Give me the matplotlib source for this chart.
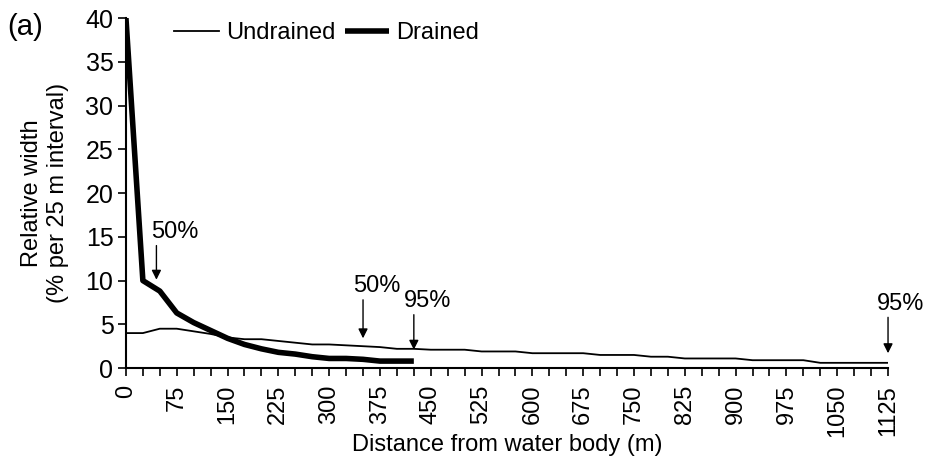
import matplotlib
matplotlib.use('Agg')
from matplotlib import pyplot as plt

plt.rcParams['font.family'] = ['Liberation Sans', 'DejaVu Sans']

# distance from water body (m), 25 m intervals
dist_drained = [0, 25, 50, 75, 100, 125, 150, 175, 200, 225, 250, 275,
                300, 325, 350, 375, 400, 425]
drained = [40.0, 10.0, 8.8, 6.3, 5.2, 4.3, 3.4, 2.7, 2.2, 1.8, 1.6, 1.3,
           1.1, 1.1, 1.0, 0.8, 0.8, 0.8]

dist_undrained = list(range(0, 1150, 25))
undrained = [4.0, 4.0, 4.5, 4.5, 4.2, 3.9, 3.5, 3.3, 3.3, 3.1, 2.9, 2.7,
             2.7, 2.6, 2.5, 2.4, 2.2, 2.2, 2.1, 2.1, 2.1, 1.9, 1.9, 1.9,
             1.7, 1.7, 1.7, 1.7, 1.5, 1.5, 1.5, 1.3, 1.3, 1.1, 1.1, 1.1,
             1.1, 0.9, 0.9, 0.9, 0.9, 0.6, 0.6, 0.6, 0.6, 0.6]

xticks = list(range(0, 1150, 75))

# percentile markers: label, x position, arrow tip y, arrow tail y
marker_labels = ['50%', '50%', '95%', '95%']
marker_x = [45, 350, 425, 1125]
marker_tip = [10.1, 3.4, 2.1, 1.7]
marker_tail = [14.0, 7.8, 6.1, 5.8]
label_shift = [-4, -7, -7, -8]   # points, text left edge relative to arrow

fig = plt.figure(figsize=(9.26, 4.63), dpi=100)
ax = fig.add_axes([0.136, 0.205, 0.823, 0.756])

ax.plot(dist_undrained, undrained, color='black', lw=1.3, label='Undrained')
ax.plot(dist_drained, drained, color='black', lw=4, label='Drained',
        solid_capstyle='butt')

for label, x, tip, tail, dx in zip(marker_labels, marker_x, marker_tip,
                                   marker_tail, label_shift):
    ax.annotate('', xy=(x, tip), xytext=(x, tail),
                arrowprops=dict(arrowstyle='-|>', color='black', lw=1,
                                mutation_scale=14, shrinkA=0, shrinkB=0))
    ax.annotate(label, xy=(x, tail), xytext=(dx, 2),
                textcoords='offset points', ha='left', va='bottom',
                fontsize=17, annotation_clip=False)

ax.set_xlim(0, 1125)
ax.set_ylim(0, 40)
ax.set_yticks(range(0, 45, 5))
ax.set_xticks(range(0, 1150, 25), minor=True)
ax.set_xticks(xticks)
ax.set_xticklabels([str(t) for t in xticks], rotation=90)
ax.tick_params(axis='y', direction='out', length=6, width=1.2,
               labelsize=18, pad=3)
ax.tick_params(axis='x', direction='out', length=6, width=1.2,
               labelsize=17, pad=6)
ax.tick_params(axis='x', which='minor', direction='out', length=6,
               width=1.2)
ax.spines['top'].set_visible(False)
ax.spines['right'].set_visible(False)
ax.spines['left'].set_linewidth(1.5)
ax.spines['bottom'].set_linewidth(1.5)

ax.set_xlabel('Distance from water body (m)', fontsize=17, labelpad=-2)
ax.set_ylabel('Relative width\n(% per 25 m interval)', fontsize=17,
              labelpad=12, linespacing=1.2)

ax.legend(loc='upper left', bbox_to_anchor=(0.035, 1.05), ncol=2,
          frameon=False, fontsize=17, handlelength=1.9, handletextpad=0.3,
          columnspacing=0.4)

fig.text(0.008, 0.925, '(a)', fontsize=21)

fig.savefig('out.png', dpi=100)
